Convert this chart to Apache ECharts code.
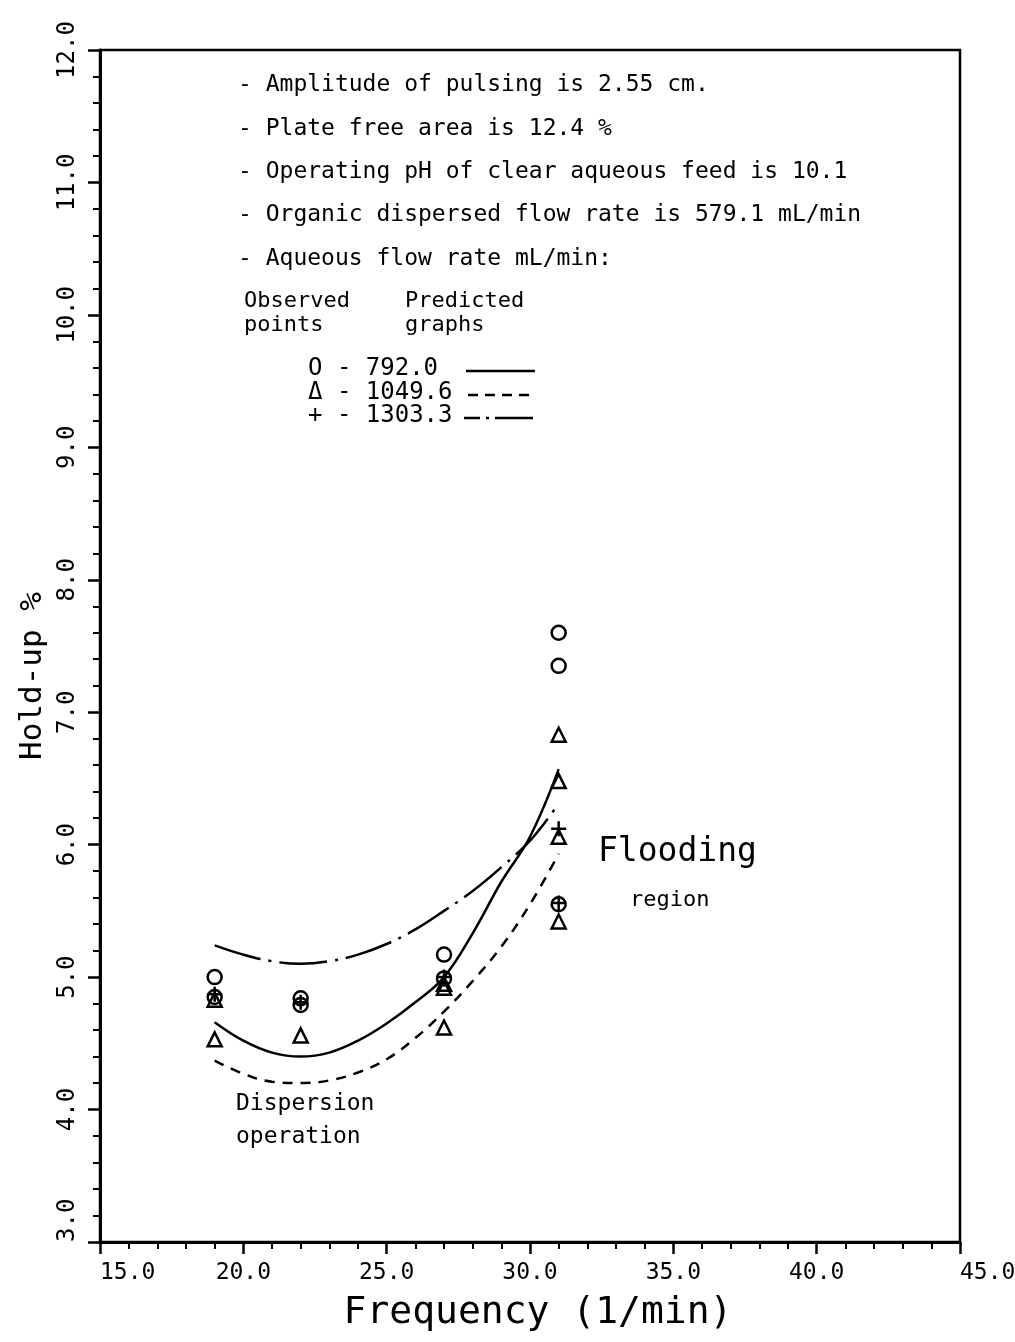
<!DOCTYPE html>
<html>
<head>
<meta charset="utf-8">
<script src="https://cdn.jsdelivr.net/npm/echarts@6/dist/echarts.min.js"></script>
<style>
html,body{margin:0;padding:0;background:#fff;}
#chart{width:1015px;height:1342px;}
</style>
</head>
<body>
<div id="chart"></div>
<script>
// Observed points (frequency, hold-up %)
var obs792 = [[19,5.00],[19,4.85],[22,4.84],[22,4.79],[27,5.17],[27,4.99],[31,7.60],[31,7.35],[31,5.55]];
var obs1049 = [[19,4.83],[19,4.53],[22,4.56],[27,4.95],[27,4.92],[27,4.62],[31,6.83],[31,6.48],[31,6.06],[31,5.42]];
var obs1303 = [[19,4.87],[22,4.81],[27,5.00],[31,6.12],[31,5.56]];

// Predicted graphs
var predX = [19,20,21,22,23,24,25,26,27,28,29,30,31];
var pred792 = [4.66,4.52,4.43,4.40,4.43,4.52,4.65,4.81,5.00,5.33,5.72,6.06,6.57];
var pred1049 = [4.37,4.27,4.21,4.20,4.22,4.28,4.38,4.54,4.74,4.97,5.23,5.55,5.93];
var pred1303 = [5.24,5.17,5.12,5.10,5.12,5.17,5.25,5.36,5.50,5.65,5.83,6.03,6.31];

var xTicks = {min:15, max:45, interval:5};
var yTicks = {min:3, max:12, interval:1};

var noteLines = [
  '- Amplitude of pulsing is 2.55 cm.',
  '- Plate free area is 12.4 %',
  '- Operating pH of clear aqueous feed is 10.1',
  '- Organic dispersed flow rate is 579.1 mL/min',
  '- Aqueous flow rate mL/min:'
];
var legendRows = ['O - 792.0', '\u0394 - 1049.6', '+ - 1303.3'];

function pairs(xs, ys){ return xs.map(function(x,i){return [x, ys[i]];}); }

var FONT = 'DejaVu Sans Mono';
var plusPath = 'path://M0,5L10,5M5,0L5,10';

var chart = echarts.init(document.getElementById('chart'));

var graphics = [];
noteLines.forEach(function(t,i){
  graphics.push({type:'text', left:238, top:74 + i*43.3,
    style:{text:t, font:'23px "'+FONT+'"', fill:'#000'}});
});
graphics.push({type:'text', left:244, top:289, style:{text:'Observed\npoints', font:'22px "'+FONT+'"', lineHeight:24, fill:'#000'}});
graphics.push({type:'text', left:405, top:289, style:{text:'Predicted\ngraphs', font:'22px "'+FONT+'"', lineHeight:24, fill:'#000'}});
legendRows.forEach(function(t,i){
  graphics.push({type:'text', left:308, top:357 + i*23.5, style:{text:t, font:'24px "'+FONT+'"', fill:'#000'}});
});
graphics.push({type:'line', shape:{x1:466,y1:371,x2:535,y2:371}, style:{stroke:'#000', lineWidth:2.5}});
graphics.push({type:'line', shape:{x1:468,y1:395,x2:533,y2:395}, style:{stroke:'#000', lineWidth:2.5, lineDash:[10,7]}});
graphics.push({type:'line', shape:{x1:464,y1:418,x2:533,y2:418}, style:{stroke:'#000', lineWidth:2.5, lineDash:[16,6,3,6,40]}});
graphics.push({type:'text', left:598, top:836, style:{text:'Flooding', font:'33px "'+FONT+'"', fill:'#000'}});
graphics.push({type:'text', left:630, top:889, style:{text:'region', font:'22px "'+FONT+'"', fill:'#000'}});
graphics.push({type:'text', left:236, top:1088, style:{text:'Dispersion\noperation', font:'23px "'+FONT+'"', lineHeight:33, fill:'#000'}});

var option = {
  backgroundColor:'#fff',
  animation:false,
  grid:{left:100, right:55, top:50, bottom:100, show:true, borderColor:'#000', borderWidth:2.5, backgroundColor:'transparent', containLabel:false, outerBoundsMode:'none'},
  xAxis:{
    type:'value', min:xTicks.min, max:xTicks.max, interval:xTicks.interval,
    name:'Frequency (1/min)', nameLocation:'middle', nameGap:52,
    nameTextStyle:{fontFamily:FONT, fontSize:38, color:'#000', padding:[0,0,0,16]},
    axisLine:{show:true, onZero:false, lineStyle:{color:'#000', width:3}},
    axisTick:{show:true, inside:false, length:12, lineStyle:{color:'#000', width:2.5}},
    minorTick:{show:true, splitNumber:5, length:7, lineStyle:{color:'#000', width:2}},
    splitLine:{show:false},
    axisLabel:{formatter:function(v){return v.toFixed(1);}, fontFamily:FONT, fontSize:23, color:'#000', margin:20, alignMinLabel:'left', alignMaxLabel:'left'}
  },
  yAxis:{
    type:'value', min:yTicks.min, max:yTicks.max, interval:yTicks.interval,
    name:'Hold-up %', nameLocation:'middle', nameGap:50, nameRotate:90,
    nameTextStyle:{fontFamily:FONT, fontSize:31, color:'#000', padding:[0,60,0,0]},
    axisLine:{show:true, onZero:false, lineStyle:{color:'#000', width:3}},
    axisTick:{show:true, inside:false, length:12, lineStyle:{color:'#000', width:2.5}},
    minorTick:{show:true, splitNumber:5, length:7, lineStyle:{color:'#000', width:2}},
    splitLine:{show:false},
    axisLabel:{rotate:90, formatter:function(v){return v.toFixed(1);}, fontFamily:FONT, fontSize:24, color:'#000', margin:20, alignMinLabel:'left'}
  },
  graphic:graphics,
  series:[
    {type:'line', data:pairs(predX,pred792), smooth:0.4, symbol:'none', lineStyle:{color:'#000', width:2.5}, z:3},
    {type:'line', data:pairs(predX,pred1049), smooth:0.4, symbol:'none', lineStyle:{color:'#000', width:2.5, type:[10,8]}, z:3},
    {type:'line', data:pairs(predX,pred1303), smooth:0.4, symbol:'none', lineStyle:{color:'#000', width:2.5, type:[48,8,3,8]}, z:3},
    {type:'scatter', data:obs792, symbol:'circle', symbolSize:14, itemStyle:{color:'rgba(0,0,0,0)', borderColor:'#000', borderWidth:2.5, opacity:1}, z:4},
    {type:'scatter', data:obs1049, symbol:'triangle', symbolSize:14, itemStyle:{color:'rgba(0,0,0,0)', borderColor:'#000', borderWidth:2.5, opacity:1}, z:4},
    {type:'scatter', data:obs1303, symbol:plusPath, symbolSize:15, itemStyle:{color:'rgba(0,0,0,0)', borderColor:'#000', borderWidth:2.5, opacity:1}, z:4}
  ]
};
chart.setOption(option);
</script>
</body>
</html>
